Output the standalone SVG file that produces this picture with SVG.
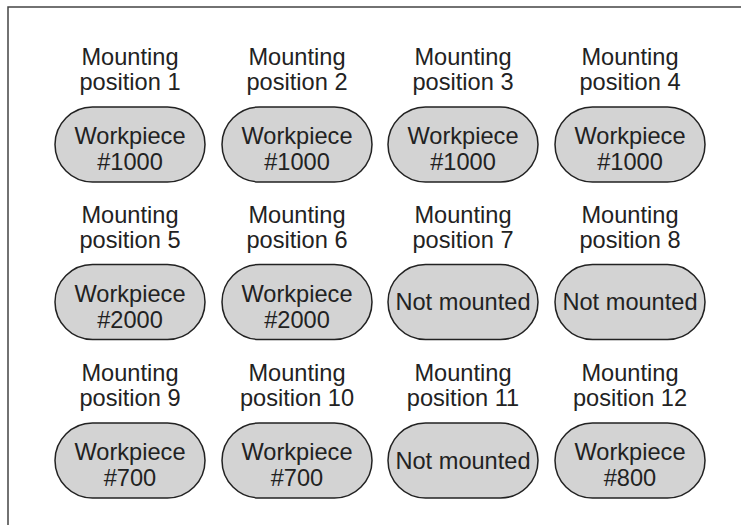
<svg xmlns="http://www.w3.org/2000/svg" width="741" height="525" viewBox="0 0 741 525">
<style>
.frame{fill:none;stroke:#444;stroke-width:1.5}
.pill{fill:#d3d3d3;stroke:#222;stroke-width:1.5}
text{font-family:"Liberation Sans",Arial,sans-serif;font-size:23.6px;fill:#222;text-anchor:middle}
</style>
<path class="frame" d="M8 525 V7 H741"/>
<g id="connectors"/>
<g id="pos1"><text x="130" y="65">Mounting</text><text x="130" y="90">position 1</text><rect class="pill" x="55" y="107" width="150" height="75" rx="37.5"/><text x="130" y="144">Workpiece</text><text x="130" y="170">#1000</text></g>
<g id="pos2"><text x="297" y="65">Mounting</text><text x="297" y="90">position 2</text><rect class="pill" x="222" y="107" width="150" height="75" rx="37.5"/><text x="297" y="144">Workpiece</text><text x="297" y="170">#1000</text></g>
<g id="pos3"><text x="463" y="65">Mounting</text><text x="463" y="90">position 3</text><rect class="pill" x="388" y="107" width="150" height="75" rx="37.5"/><text x="463" y="144">Workpiece</text><text x="463" y="170">#1000</text></g>
<g id="pos4"><text x="630" y="65">Mounting</text><text x="630" y="90">position 4</text><rect class="pill" x="555" y="107" width="150" height="75" rx="37.5"/><text x="630" y="144">Workpiece</text><text x="630" y="170">#1000</text></g>
<g id="pos5"><text x="130" y="222.5">Mounting</text><text x="130" y="247.5">position 5</text><rect class="pill" x="55" y="264.5" width="150" height="75" rx="37.5"/><text x="130" y="301.5">Workpiece</text><text x="130" y="327.5">#2000</text></g>
<g id="pos6"><text x="297" y="222.5">Mounting</text><text x="297" y="247.5">position 6</text><rect class="pill" x="222" y="264.5" width="150" height="75" rx="37.5"/><text x="297" y="301.5">Workpiece</text><text x="297" y="327.5">#2000</text></g>
<g id="pos7"><text x="463" y="222.5">Mounting</text><text x="463" y="247.5">position 7</text><rect class="pill" x="388" y="264.5" width="150" height="75" rx="37.5"/><text x="463" y="310">Not mounted</text></g>
<g id="pos8"><text x="630" y="222.5">Mounting</text><text x="630" y="247.5">position 8</text><rect class="pill" x="555" y="264.5" width="150" height="75" rx="37.5"/><text x="630" y="310">Not mounted</text></g>
<g id="pos9"><text x="130" y="381">Mounting</text><text x="130" y="406">position 9</text><rect class="pill" x="55" y="423" width="150" height="75" rx="37.5"/><text x="130" y="460">Workpiece</text><text x="130" y="486">#700</text></g>
<g id="pos10"><text x="297" y="381">Mounting</text><text x="297" y="406">position 10</text><rect class="pill" x="222" y="423" width="150" height="75" rx="37.5"/><text x="297" y="460">Workpiece</text><text x="297" y="486">#700</text></g>
<g id="pos11"><text x="463" y="381">Mounting</text><text x="463" y="406">position 11</text><rect class="pill" x="388" y="423" width="150" height="75" rx="37.5"/><text x="463" y="468.5">Not mounted</text></g>
<g id="pos12"><text x="630" y="381">Mounting</text><text x="630" y="406">position 12</text><rect class="pill" x="555" y="423" width="150" height="75" rx="37.5"/><text x="630" y="460">Workpiece</text><text x="630" y="486">#800</text></g>
</svg>
